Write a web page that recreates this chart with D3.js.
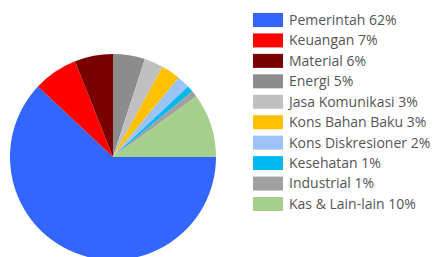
<!DOCTYPE html>
<html><head><meta charset="utf-8">
<script src="https://cdn.jsdelivr.net/npm/d3@7"></script>
<style>html,body{margin:0;padding:0;background:#fff;overflow:hidden}</style>
</head><body>
<svg id="c" width="432" height="257"></svg>
<script>
const categories = ["Pemerintah","Keuangan","Material","Energi","Jasa Komunikasi","Kons Bahan Baku","Kons Diskresioner","Kesehatan","Industrial","Kas & Lain-lain"];
const values = [62,7,6,5,3,3,2,1,1,10];
const colors = ["#3366FF","#FF0000","#7A0000","#8C8C8C","#C0C0C0","#FFC000","#9DC3F5","#00B8F0","#A0A0A0","#A6CF8C"];
const labels = categories.map((c,i)=>c+" "+values[i]+"%");

const svg = d3.select("#c");
const cx = 113, cy = 157, r = 103;
const pie = d3.pie().sort(null).startAngle(Math.PI/2).endAngle(Math.PI/2 + 2*Math.PI);
const arc = d3.arc().innerRadius(0).outerRadius(r);
svg.append("g").attr("transform",`translate(${cx},${cy})`)
  .selectAll("path").data(pie(values)).join("path")
  .attr("d",arc).attr("fill",(d,i)=>colors[i]);

const y = d3.scalePoint().domain(categories).range([20,204]);
const lg = svg.append("g");
const rows = lg.selectAll("g").data(categories).join("g")
  .attr("transform",d=>`translate(0,${y(d)})`);
rows.append("rect").attr("x",253).attr("y",-7).attr("width",30).attr("height",14)
  .attr("fill",(d,i)=>colors[i]);
rows.append("text").attr("x",289).attr("y",0).attr("dy","0.35em")
  .attr("font-family","'Open Sans', sans-serif").attr("font-size",14)
  .attr("fill","#555").text((d,i)=>labels[i]);
</script>
</body></html>
